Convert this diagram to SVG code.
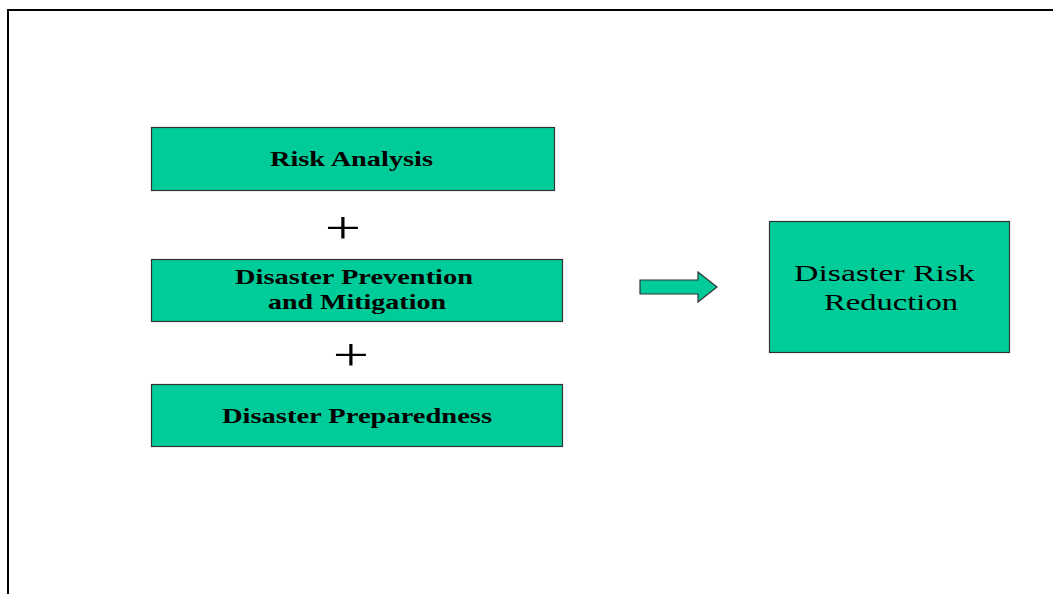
<svg xmlns="http://www.w3.org/2000/svg" width="1053" height="594" viewBox="0 0 1053 594">
<style>
.box{fill:#00CC99;stroke:#333333;stroke-width:1.2}
.bt{font-family:"Liberation Serif","Times New Roman",serif;font-weight:bold;font-size:21px;fill:#000}
.rt{font-family:"Liberation Serif","Times New Roman",serif;font-size:24px;fill:#000}
.plus{font-family:"Liberation Serif","Times New Roman",serif;font-size:46px;fill:#000;text-anchor:middle}
</style>
<rect x="0" y="0" width="1053" height="594" fill="#ffffff"/>
<path d="M8,594 V10 H1053" fill="none" stroke="#000" stroke-width="2"/>
<g id="risk-analysis">
<rect class="box" x="151.5" y="127.5" width="403" height="63"/>
<text class="bt" x="270" y="166" textLength="163" lengthAdjust="spacingAndGlyphs">Risk Analysis</text>
</g>
<g id="plus1">
<text class="plus" transform="translate(343,243) scale(1.4,1)">+</text>
</g>
<g id="prevention">
<rect class="box" x="151.5" y="259.5" width="411" height="62"/>
<text class="bt" x="235" y="284" textLength="238" lengthAdjust="spacingAndGlyphs">Disaster Prevention</text>
<text class="bt" x="268" y="309" textLength="178" lengthAdjust="spacingAndGlyphs">and Mitigation</text>
</g>
<g id="plus2">
<text class="plus" transform="translate(351,370) scale(1.4,1)">+</text>
</g>
<g id="preparedness">
<rect class="box" x="151.5" y="384.5" width="411" height="62"/>
<text class="bt" x="222" y="423" textLength="270" lengthAdjust="spacingAndGlyphs">Disaster Preparedness</text>
</g>
<g id="connectors">
<polygon class="box" points="640,280 698,280 698,272 717,287 698,302 698,294 640,294"/>
</g>
<g id="drr">
<rect class="box" x="769.5" y="221.5" width="240" height="131"/>
<text class="rt" x="794" y="281" textLength="181" lengthAdjust="spacingAndGlyphs">Disaster Risk</text>
<text class="rt" x="824" y="310" textLength="134" lengthAdjust="spacingAndGlyphs">Reduction</text>
</g>
</svg>
